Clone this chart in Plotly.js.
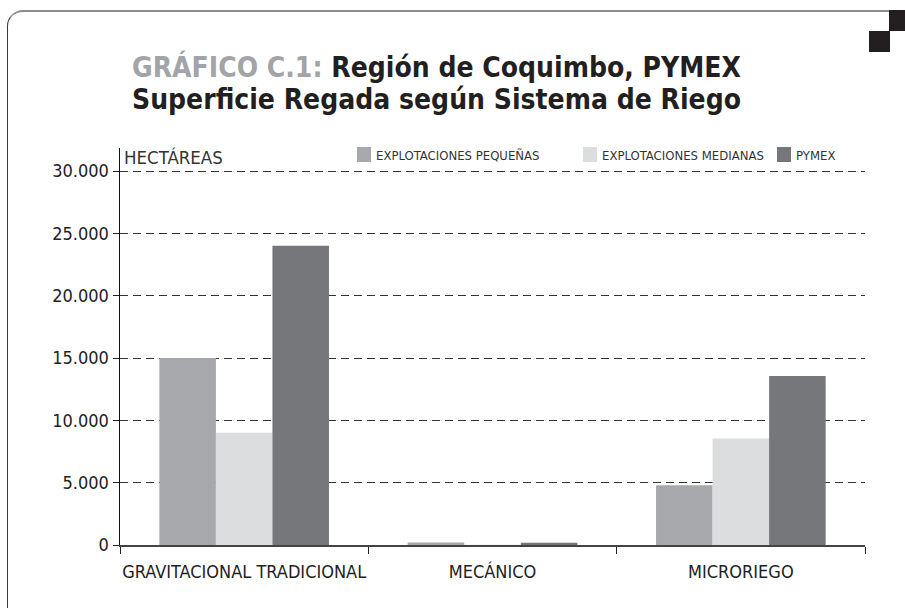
<!DOCTYPE html>
<html>
<head>
<meta charset="utf-8">
<script src="https://cdn.plot.ly/plotly-3.0.1.min.js"></script>
<style>
  body { margin: 0; background: #fff; }
  #wrap { position: relative; width: 905px; height: 608px; overflow: hidden; }
  #chart { position: absolute; left: 0; top: 0; width: 905px; height: 608px; }
  #frame {
    position: absolute; left: 7px; top: 10px; width: 1000px; height: 610px;
    border-top: 2px solid #8c8c8c; border-left: 1px solid #3a3a3a; border-bottom: 1px solid #3a3a3a;
    border-radius: 16px 0 0 16px; pointer-events: none;
  }
  .sq { position: absolute; background: #231f20; pointer-events: none; }
</style>
</head>
<body>
<div id="wrap">
  <div id="chart"></div>
  <div id="frame"></div>
  <div class="sq" style="left:889px; top:10px; width:16px; height:21px;"></div>
  <div class="sq" style="left:869px; top:31px; width:21px; height:21px;"></div>
</div>
<script>
const categories = ['GRAVITACIONAL TRADICIONAL', 'MECÁNICO', 'MICRORIEGO'];
const seriesNames = ['EXPLOTACIONES PEQUEÑAS', 'EXPLOTACIONES MEDIANAS', 'PYMEX'];
const pequenas = [15000, 200, 4800];
const medianas = [9000, 20, 8550];
const pymex = [24000, 180, 13550];
const yTicks = [0, 5000, 10000, 15000, 20000, 25000, 30000];

const colors = ['#a7a8ab', '#dcdddf', '#76777b'];
const font = "'DejaVu Sans Condensed', 'Liberation Sans', sans-serif";

// plot area in pixels: x 120..865, y 545..148
const px2x = px => (px - 120) / 745;
const py2y = py => (545 - py) / 397;

const traces = [pequenas, medianas, pymex].map((vals, i) => ({
    type: 'bar',
    name: seriesNames[i],
    x: categories,
    y: vals,
    marker: { color: colors[i], line: { width: 0 } },
    hoverinfo: 'x+y+name'
}));

// hand-drawn legend to match the small swatches
const legendLeft = [357, 583, 777];
const shapes = legendLeft.map((lx, i) => ({
    type: 'rect', xref: 'paper', yref: 'paper',
    x0: px2x(lx), x1: px2x(lx + 14), y0: py2y(162), y1: py2y(147),
    fillcolor: colors[i], line: { width: 0 }
}));

const annotations = legendLeft.map((lx, i) => ({
    xref: 'paper', yref: 'paper', x: px2x(lx + 17), y: py2y(155),
    xanchor: 'left', yanchor: 'middle', showarrow: false,
    text: seriesNames[i], font: { family: font, size: 13, color: '#333' }
}));

annotations.push(
    {
        xref: 'paper', yref: 'paper', x: px2x(436), y: py2y(86),
        xanchor: 'center', yanchor: 'bottom', showarrow: false,
        text: '<b><span style="color:#a3a4a7">GRÁFICO C.1:</span> Región de Coquimbo, PYMEX</b>',
        font: { family: font, size: 28, color: '#231f20' }
    },
    {
        xref: 'paper', yref: 'paper', x: px2x(436), y: py2y(81),
        xanchor: 'center', yanchor: 'top', showarrow: false,
        text: '<b>Superficie Regada según Sistema de Riego</b>',
        font: { family: font, size: 28, color: '#231f20' }
    },
    {
        xref: 'paper', yref: 'paper', x: px2x(122), y: py2y(157),
        xanchor: 'left', yanchor: 'middle', showarrow: false,
        text: 'HECTÁREAS', font: { family: font, size: 18.5, color: '#333' }
    }
);

const layout = {
    width: 905,
    height: 608,
    margin: { l: 120, r: 40, t: 148, b: 63 },
    paper_bgcolor: 'rgba(0,0,0,0)',
    plot_bgcolor: 'rgba(0,0,0,0)',
    separators: ',.',
    barmode: 'group',
    bargap: 0.317,
    bargroupgap: 0,
    showlegend: false,
    font: { family: font, color: '#222' },
    xaxis: {
        type: 'category',
        showline: true, linecolor: '#444', linewidth: 1.5,
        ticks: 'outside', tickson: 'boundaries', ticklen: 7, tickcolor: '#222', tickwidth: 1,
        tickangle: 0, ticklabelstandoff: 10,
        tickfont: { family: font, size: 18, color: '#222' },
        showgrid: false, zeroline: false
    },
    yaxis: {
        range: [0, 31850],
        tickvals: yTicks,
        tickformat: ',d',
        showline: true, linecolor: '#111', linewidth: 1.5,
        ticks: 'outside', ticklen: 6, tickcolor: '#222', tickwidth: 1,
        tickfont: { family: font, size: 18, color: '#222' },
        showgrid: true, gridcolor: '#333', gridwidth: 1, griddash: '8px,5px',
        zeroline: false
    },
    shapes: shapes,
    annotations: annotations
};

Plotly.newPlot('chart', traces, layout, { displayModeBar: false, staticPlot: true });
</script>
</body>
</html>
